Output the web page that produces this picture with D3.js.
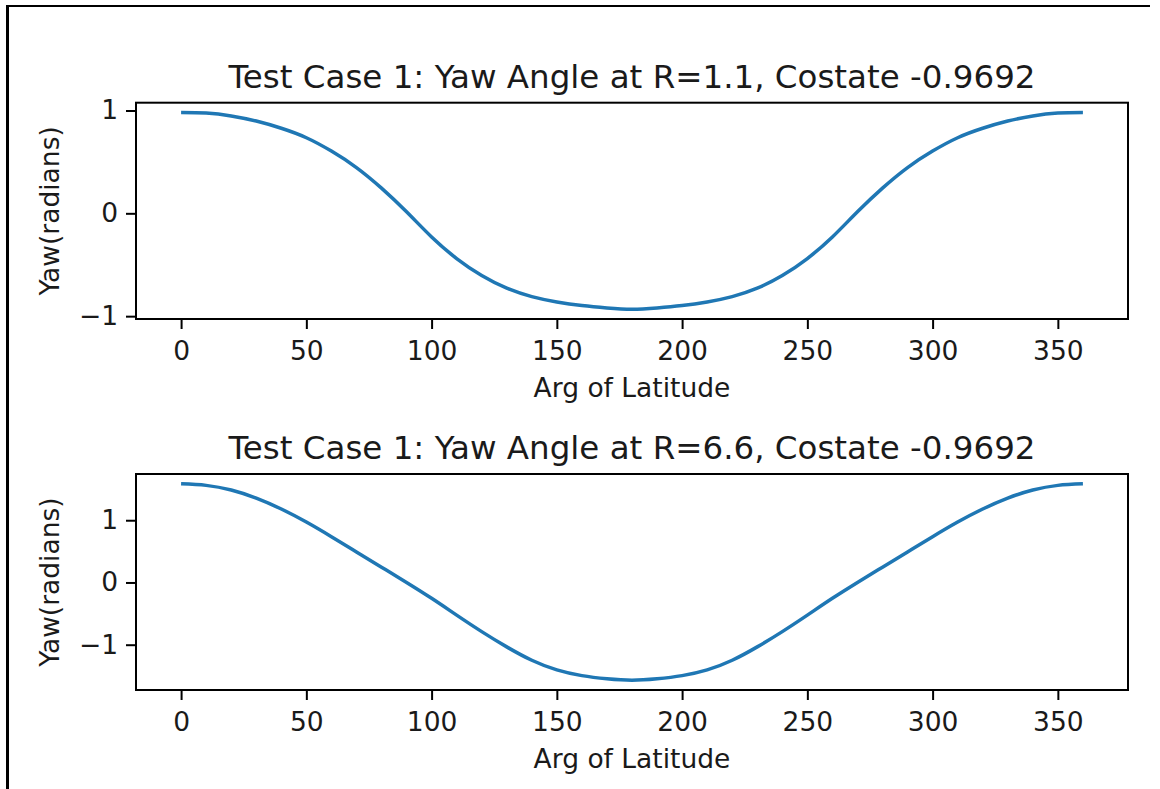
<!DOCTYPE html>
<html>
<head>
<meta charset="utf-8">
<script src="https://cdn.jsdelivr.net/npm/d3@7/dist/d3.min.js"></script>
<style>
  html, body { margin: 0; padding: 0; background: #fff; }
  svg { display: block; }
  text { font-family: "DejaVu Sans", sans-serif; fill: #1a1a1a; }
</style>
</head>
<body>
<svg id="chart" width="1160" height="789"></svg>
<script>
// ---- data ----
const argLat = [0,10,20,30,40,50,60,70,80,90,100,110,120,130,140,150,160,170,180,
                190,200,210,220,230,240,250,260,270,280,290,300,310,320,330,340,350,360];
const yawR11 = [0.98,0.975,0.947,0.897,0.827,0.735,0.605,0.445,0.245,0.015,-0.23,-0.44,-0.605,-0.728,-0.81,-0.862,-0.897,-0.92,-0.932,
                -0.92,-0.897,-0.862,-0.81,-0.728,-0.605,-0.44,-0.23,0.015,0.245,0.445,0.605,0.735,0.827,0.897,0.947,0.975,0.98];
const yawR66 = [1.585,1.56,1.485,1.355,1.18,0.97,0.735,0.49,0.245,0.0,-0.255,-0.525,-0.79,-1.035,-1.25,-1.405,-1.497,-1.547,-1.57,
                -1.547,-1.497,-1.405,-1.25,-1.035,-0.79,-0.525,-0.255,0.0,0.245,0.49,0.735,0.97,1.18,1.355,1.485,1.56,1.585];
const xTicks = [0,50,100,150,200,250,300,350];
const yTicks1 = [-1,0,1];
const yTicks2 = [-1,0,1];
const titles = ["Test Case 1: Yaw Angle at R=1.1, Costate -0.9692",
                "Test Case 1: Yaw Angle at R=6.6, Costate -0.9692"];
const xLabel = "Arg of Latitude";
const yLabel = "Yaw(radians)";

// ---- layout ----
const svg = d3.select("#chart");
const left = 136, right = 1128;
const panels = [
  { top: 102.7, bottom: 319, values: yawR11, yTicks: yTicks1, title: titles[0] },
  { top: 474, bottom: 690, values: yawR66, yTicks: yTicks2, title: titles[1] }
];

// outer frame (left and top lines)
svg.append("line").attr("x1", 7.5).attr("x2", 7.5).attr("y1", 5).attr("y2", 789)
  .attr("stroke", "#000").attr("stroke-width", 3);
svg.append("line").attr("x1", 6).attr("x2", 1150).attr("y1", 6).attr("y2", 6)
  .attr("stroke", "#000").attr("stroke-width", 2);

function padDomain(arr) {
  const mn = d3.min(arr), mx = d3.max(arr), r = mx - mn;
  return [mn - 0.05 * r, mx + 0.05 * r];
}

const xDom = padDomain(argLat);

panels.forEach(p => {
  const x = d3.scaleLinear().domain(xDom).range([left, right]);
  const y = d3.scaleLinear().domain(padDomain(p.values)).range([p.bottom, p.top]);
  const g = svg.append("g");

  const fmt = d => d < 0 ? "\u2212" + Math.abs(d) : String(d);

  const xAxis = d3.axisBottom(x).tickValues(xTicks).tickSize(10).tickPadding(12)
    .tickSizeOuter(0).tickFormat(fmt);
  const gx = g.append("g").attr("transform", `translate(0,${p.bottom})`).call(xAxis);
  const yAxis = d3.axisLeft(y).tickValues(p.yTicks).tickSize(10).tickPadding(8)
    .tickSizeOuter(0).tickFormat(fmt);
  const gy = g.append("g").attr("transform", `translate(${left},0)`).call(yAxis);
  [gx, gy].forEach(a => {
    a.select(".domain").remove();
    a.selectAll(".tick line").attr("stroke", "#000").attr("stroke-width", 2);
    a.selectAll(".tick text").attr("font-size", 26.5).attr("font-family", "DejaVu Sans")
      .attr("fill", "#1a1a1a");
  });

  // line
  const line = d3.line().x((d, i) => x(argLat[i])).y(d => y(d)).curve(d3.curveNatural);
  g.append("path").datum(p.values).attr("d", line)
    .attr("fill", "none").attr("stroke", "#1f77b4").attr("stroke-width", 3.5)
    .attr("stroke-linecap", "butt");

  // spines
  g.append("rect").attr("x", left).attr("y", p.top)
    .attr("width", right - left).attr("height", p.bottom - p.top)
    .attr("fill", "none").attr("stroke", "#000").attr("stroke-width", 2);

  // title
  g.append("text").attr("x", (left + right) / 2).attr("y", p.top - 15)
    .attr("text-anchor", "middle").attr("font-size", 32.5).text(p.title);

  // x label
  g.append("text").attr("x", (left + right) / 2).attr("y", p.bottom + 78)
    .attr("text-anchor", "middle").attr("font-size", 26.5).text(xLabel);

  // y label
  const cy = (p.top + p.bottom) / 2;
  g.append("text").attr("transform", `translate(59,${cy}) rotate(-90)`)
    .attr("text-anchor", "middle").attr("font-size", 26.5).text(yLabel);
});
</script>
</body>
</html>
